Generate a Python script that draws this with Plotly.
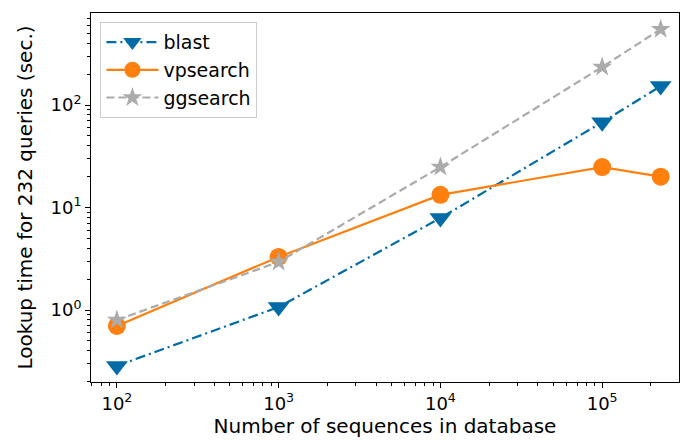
import plotly.graph_objects as go

x_vals = [100, 1000, 10000, 100000, 230000]
blast = [0.285, 1.07, 7.9, 68, 153]
vpsearch = [0.70, 3.3, 13.3, 24.8, 20.0]
ggsearch = [0.80, 2.95, 24.8, 235, 550]
series_names = ["blast", "vpsearch", "ggsearch"]
tick_vals_x = [100, 1000, 10000, 100000]
tick_text_x = ["10<sup>2</sup>", "10<sup>3</sup>", "10<sup>4</sup>", "10<sup>5</sup>"]
tick_vals_y = [1, 10, 100]
tick_text_y = ["10<sup>0</sup>", "10<sup>1</sup>", "10<sup>2</sup>"]

FONT = "DejaVu Sans"
fig = go.Figure()
fig.add_trace(go.Scatter(x=x_vals, y=blast, name=series_names[0], mode="lines+markers",
                         line=dict(color="#006BA4", width=2.2, dash="10px,4px,2px,4px"),
                         marker=dict(symbol="triangle-down", size=19, color="#006BA4")))
fig.add_trace(go.Scatter(x=x_vals, y=vpsearch, name=series_names[1], mode="lines+markers",
                         line=dict(color="#FF800E", width=2.2),
                         marker=dict(symbol="circle", size=18, color="#FF800E")))
fig.add_trace(go.Scatter(x=x_vals, y=ggsearch, name=series_names[2], mode="lines+markers",
                         line=dict(color="#ABABAB", width=2.2, dash="8px,4px"),
                         marker=dict(symbol="star", size=15, color="#ABABAB")))

axis_common = dict(showline=True, linecolor="black", linewidth=1, mirror=True,
                   ticks="outside", ticklen=5, tickcolor="black", showgrid=False,
                   zeroline=False, automargin=False,
                   tickfont=dict(size=18, color="black", family=FONT),
                   minor=dict(ticks="outside", ticklen=3, tickcolor="black", showgrid=False, dtick="D1"))
fig.update_xaxes(type="log", range=[1.84, 5.475], tickvals=tick_vals_x, ticktext=tick_text_x,
                 title=dict(text="Number of sequences in database", font=dict(size=20, color="black", family=FONT), standoff=6),
                 **axis_common)
fig.update_yaxes(type="log", range=[-0.702, 2.898], tickvals=tick_vals_y, ticktext=tick_text_y,
                 title=dict(text="Lookup time for 232 queries (sec.)", font=dict(size=20, color="black", family=FONT), standoff=12),
                 **axis_common)
fig.update_layout(width=680, height=440, margin=dict(l=91, r=1, t=13, b=58),
                  plot_bgcolor="white", paper_bgcolor="white",
                  font=dict(family=FONT, size=19, color="black"),
                  legend=dict(x=0.016, y=0.975, xanchor="left", yanchor="top",
                              bgcolor="rgba(255,255,255,0.8)", bordercolor="#CCCCCC", borderwidth=1,
                              font=dict(size=19, family=FONT), tracegroupgap=0, itemwidth=52))
fig.write_html("out.html", config={"displayModeBar": False},
               post_script="document.body.style.margin='0';document.body.style.overflow='hidden';")
